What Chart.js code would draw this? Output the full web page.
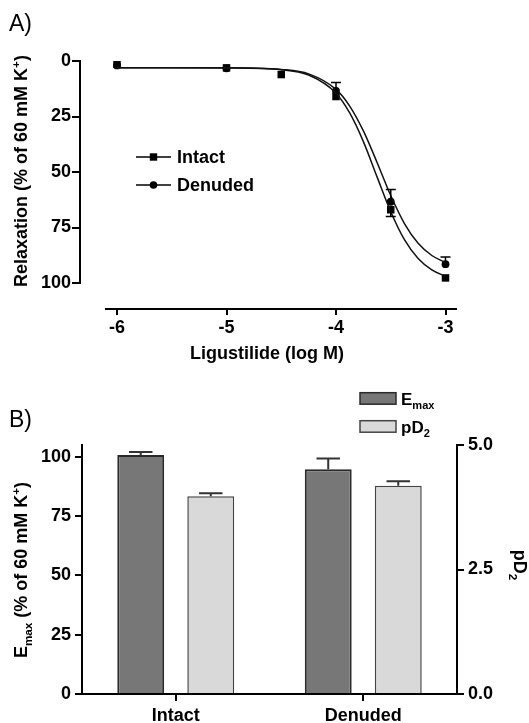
<!DOCTYPE html>
<html><head><meta charset="utf-8">
<script src="https://cdn.jsdelivr.net/npm/chart.js@4.4.1/dist/chart.umd.min.js"></script>
<style>
html,body{margin:0;padding:0;background:#fff;}
#wrap{position:relative;width:529px;height:723px;overflow:hidden;}
#wrap canvas{position:absolute;left:0;top:0;}
</style></head><body>
<div id="wrap"><canvas id="ca" width="529" height="723"></canvas><canvas id="cb" width="529" height="723"></canvas></div>
<script>
// ---- Panel A data ----
const logConc = [-6, -5, -4.5, -4, -3.5, -3];
const intactMean = [1.5, 3.1, 6.1, 16, 67, 97.7];
const intactSem = [0.5, 0.5, 1, 1.5, 3, 1];
const denudedConc = [-6, -5, -4, -3.5, -3];
const denudedMean = [2, 3.3, 13.5, 63.4, 91.5];
const denudedSem = [0.5, 0.5, 3.8, 5.5, 3.2];
const fitConc = [-6, -5.5, -5, -4.5, -4.25, -4, -3.875, -3.75, -3.625, -3.5, -3.375, -3.25, -3.125, -3];
const intactFit = [3.0, 3.0, 3.1, 3.9, 6.3, 14.5, 23.4, 36.3, 52.2, 67.9, 80.5, 89.0, 94.1, 97.0];
const denudedFit = [3.0, 3.0, 3.0, 3.8, 5.8, 12.8, 20.3, 31.5, 45.7, 60.6, 73.2, 82.1, 87.6, 90.8];
const xTicksA = [-6, -5, -4, -3];
const yTicksA = [0, 25, 50, 75, 100];
// ---- Panel B data ----
const groups = ['Intact', 'Denuded'];
const emax = [100.8, 94.8];
const emaxSem = [1.2, 4.5];
const pd2 = [3.97, 4.18];
const pd2Sem = [0.06, 0.09];
const yTicksB = [0, 25, 50, 75, 100];
const y2TicksB = [0, 2.5, 5];

const FF = '"Liberation Sans", Arial, Helvetica, sans-serif';
const bold = s => ({family: FF, size: s, weight: 'bold'});

function partFont(p, size){ const fs = p.s ? size*0.65 : size; return `bold ${fs}px ${FF}`; }
function richWidth(ctx, parts, size){ let w=0; for(const p of parts){ ctx.font = partFont(p,size); w += ctx.measureText(p.t).width; } return w; }
function drawRich(ctx, parts, x, y, size, align){
  const w = richWidth(ctx, parts, size);
  let cx = align === 'center' ? x - w/2 : x;
  ctx.textBaseline = 'alphabetic'; ctx.textAlign = 'left';
  for(const p of parts){
    ctx.font = partFont(p,size);
    const dy = p.s === 'sub' ? size*0.26 : (p.s === 'sup' ? -size*0.4 : 0);
    ctx.fillText(p.t, cx, y+dy);
    cx += ctx.measureText(p.t).width;
  }
}

const pairs = (xs, ys) => xs.map((x,i)=>({x:x, y:ys[i]}));

// ---- Panel A ----
const plugA = {
  id:'plugA',
  afterDraw(chart){
    const ctx = chart.ctx, xs = chart.scales.x, ys = chart.scales.y;
    ctx.save();
    ctx.strokeStyle = '#000'; ctx.fillStyle = '#000';
    // axes
    ctx.lineWidth = 2;
    ctx.beginPath();
    ctx.moveTo(chart.chartArea.left, ys.getPixelForValue(0)-1);
    ctx.lineTo(chart.chartArea.left, ys.getPixelForValue(100)+1);
    ctx.moveTo(xs.getPixelForValue(-6.11), chart.chartArea.bottom);
    ctx.lineTo(chart.chartArea.right, chart.chartArea.bottom);
    ctx.stroke();
    // error bars (hidden when shorter than the marker, as in the original)
    ctx.lineWidth = 1.5;
    const eb = (xv, m, e, dir) => {
      const px = xs.getPixelForValue(xv);
      const p0 = ys.getPixelForValue(m), p1 = ys.getPixelForValue(m + dir*e);
      if (Math.abs(p1 - p0) <= 4.5) return;
      ctx.beginPath(); ctx.moveTo(px, p0); ctx.lineTo(px, p1);
      ctx.moveTo(px-5, p1); ctx.lineTo(px+5, p1); ctx.stroke();
    };
    logConc.forEach((x,i)=>eb(x, intactMean[i], intactSem[i], 1));
    denudedConc.forEach((x,i)=>eb(x, denudedMean[i], denudedSem[i], -1));
    // legend
    const rows = [{lab: chart.data.datasets[2].label, y:157, st:'rect'}, {lab: chart.data.datasets[3].label, y:185, st:'circle'}];
    rows.forEach(r=>{
      ctx.lineWidth = 1.5;
      ctx.beginPath(); ctx.moveTo(136, r.y); ctx.lineTo(171, r.y); ctx.stroke();
      if(r.st==='rect'){ ctx.fillRect(153.5-3.7, r.y-3.7, 7.4, 7.4); }
      else { ctx.beginPath(); ctx.arc(153.5, r.y, 3.8, 0, Math.PI*2); ctx.fill(); }
      ctx.font = `bold 18px ${FF}`; ctx.textBaseline = 'middle'; ctx.textAlign = 'left';
      ctx.fillText(r.lab, 177, r.y+1);
    });
    // titles
    ctx.save(); ctx.translate(20, 171); ctx.rotate(-Math.PI/2);
    drawRich(ctx, [{t:'Relaxation (% of 60 mM K'},{t:'+',s:'sup'},{t:')'}], 0, 7, 18, 'center');
    ctx.restore();
    drawRich(ctx, [{t:'Ligustilide (log M)'}], 267, 359, 18, 'center');
    ctx.font = `23px ${FF}`; ctx.textBaseline = 'alphabetic'; ctx.textAlign='left';
    ctx.fillText('A)', 9, 31);
    ctx.restore();
  }
};

new Chart(document.getElementById('ca'), {
  type: 'line',
  data: {
    datasets: [
      {label:'Intact fit', data: pairs(fitConc, intactFit), borderColor:'#111', borderWidth:1.5, pointRadius:0, cubicInterpolationMode:'monotone', fill:false},
      {label:'Denuded fit', data: pairs(fitConc, denudedFit), borderColor:'#111', borderWidth:1.5, pointRadius:0, cubicInterpolationMode:'monotone', fill:false},
      {label:'Intact', data: pairs(logConc, intactMean), showLine:false, pointStyle:'rect', pointRadius:5.3, pointBackgroundColor:'#000', pointBorderColor:'#000', pointBorderWidth:0},
      {label:'Denuded', data: pairs(denudedConc, denudedMean), showLine:false, pointStyle:'circle', pointRadius:3.9, pointBackgroundColor:'#000', pointBorderColor:'#000', pointBorderWidth:0}
    ]
  },
  options: {
    responsive:false, animation:false, devicePixelRatio:1,
    layout:{padding:{left:0, right:72, top:61, bottom:364}},
    plugins:{legend:{display:false}, tooltip:{enabled:false}},
    scales:{
      x:{type:'linear', min:-6.338, max:-2.895,
         afterBuildTicks: s => { s.ticks = xTicksA.map(v=>({value:v})); },
         afterFit: s => { s.height = 50; },
         ticks:{callback: v => String(v), font: bold(18), color:'#000', padding:2, maxRotation:0, autoSkip:false},
         grid:{display:true, drawOnChartArea:false, drawTicks:true, tickLength:6, lineWidth:2, color:'#000'},
         border:{display:false}},
      y:{type:'linear', reverse:true, min:0, max:111.7,
         afterBuildTicks: s => { s.ticks = yTicksA.map(v=>({value:v})); },
         afterFit: s => { s.width = 80; },
         ticks:{font: bold(18), color:'#000', padding:1},
         grid:{display:true, drawOnChartArea:false, drawTicks:true, tickLength:8, lineWidth:2, color:'#000'},
         border:{display:false}}
    }
  },
  plugins:[plugA]
});

// ---- Panel B ----
const plugB = {
  id:'plugB',
  afterDatasetsDraw(chart){
    const ctx = chart.ctx;
    ctx.save();
    ctx.strokeStyle = '#333'; ctx.lineWidth = 2;
    const sets = [{vals:emax, sem:emaxSem, ax:'y'}, {vals:pd2, sem:pd2Sem, ax:'y2'}];
    sets.forEach((s, di)=>{
      const meta = chart.getDatasetMeta(di), sc = chart.scales[s.ax];
      meta.data.forEach((bar, j)=>{
        const top = sc.getPixelForValue(s.vals[j]), tip = sc.getPixelForValue(s.vals[j] + s.sem[j]);
        const hw = bar.width/4;
        ctx.beginPath(); ctx.moveTo(bar.x, top); ctx.lineTo(bar.x, tip);
        ctx.moveTo(bar.x-hw, tip); ctx.lineTo(bar.x+hw, tip); ctx.stroke();
      });
    });
    ctx.restore();
  },
  afterDraw(chart){
    const ctx = chart.ctx;
    ctx.save(); ctx.fillStyle = '#000';
    // legend
    const ds = chart.data.datasets;
    const items = [{y:392.7, parts:[{t:'E'},{t:'max',s:'sub'}], d:ds[0]}, {y:420.7, parts:[{t:'pD'},{t:'2',s:'sub'}], d:ds[1]}];
    items.forEach(it=>{
      ctx.fillStyle = it.d.backgroundColor; ctx.fillRect(360, it.y, 36, 11.5);
      ctx.strokeStyle = it.d.borderColor; ctx.lineWidth = 1.5; ctx.strokeRect(360, it.y, 36, 11.5);
      ctx.fillStyle = '#000';
      drawRich(ctx, it.parts, 401, it.y + 12, 17, 'left');
    });
    // titles
    ctx.save(); ctx.translate(20, 570); ctx.rotate(-Math.PI/2);
    drawRich(ctx, [{t:'E'},{t:'max',s:'sub'},{t:' (% of 60 mM K'},{t:'+',s:'sup'},{t:')'}], 0, 7, 18, 'center');
    ctx.restore();
    ctx.save(); ctx.translate(519, 565); ctx.rotate(Math.PI/2);
    drawRich(ctx, [{t:'pD'},{t:'2',s:'sub'}], 0, 5, 18, 'center');
    ctx.restore();
    ctx.font = `23px ${FF}`; ctx.textBaseline = 'alphabetic'; ctx.textAlign='left';
    ctx.fillText('B)', 9, 427);
    ctx.restore();
  }
};

new Chart(document.getElementById('cb'), {
  type:'bar',
  data:{
    labels: groups,
    datasets:[
      {label:'Emax', data: emax, yAxisID:'y', backgroundColor:'#777777', borderColor:'#2a2a2a', borderWidth:2, barPercentage:0.67, categoryPercentage:0.747},
      {label:'pD2', data: pd2, yAxisID:'y2', backgroundColor:'#d9d9d9', borderColor:'#444444', borderWidth:1.5, barPercentage:0.67, categoryPercentage:0.747}
    ]
  },
  options:{
    responsive:false, animation:false, devicePixelRatio:1,
    layout:{padding:{left:0, right:0, top:445, bottom:0}},
    plugins:{legend:{display:false}, tooltip:{enabled:false}},
    scales:{
      x:{type:'category', offset:true,
         afterFit: s => { s.height = 29; },
         ticks:{font: bold(18), color:'#000', padding:4, maxRotation:0},
         grid:{display:true, offset:false, drawOnChartArea:false, drawTicks:true, tickLength:7, lineWidth:2, color:'#000'},
         border:{display:true, width:2, color:'#000'}},
      y:{type:'linear', position:'left', min:0, max:105,
         afterBuildTicks: s => { s.ticks = yTicksB.map(v=>({value:v})); },
         afterFit: s => { s.width = 82; },
         ticks:{font: bold(18), color:'#000', padding:4},
         grid:{display:true, drawOnChartArea:false, drawTicks:true, tickLength:7, lineWidth:2, color:'#000'},
         border:{display:true, width:2, color:'#000'}},
      y2:{type:'linear', position:'right', min:0, max:5,
         afterBuildTicks: s => { s.ticks = y2TicksB.map(v=>({value:v})); },
         afterFit: s => { s.width = 72; },
         ticks:{font: bold(18), color:'#000', padding:4, callback: v => Number(v).toFixed(1)},
         grid:{display:true, drawOnChartArea:false, drawTicks:true, tickLength:7, lineWidth:2, color:'#000'},
         border:{display:true, width:2, color:'#000'}}
    }
  },
  plugins:[plugB]
});
</script>
</body></html>
